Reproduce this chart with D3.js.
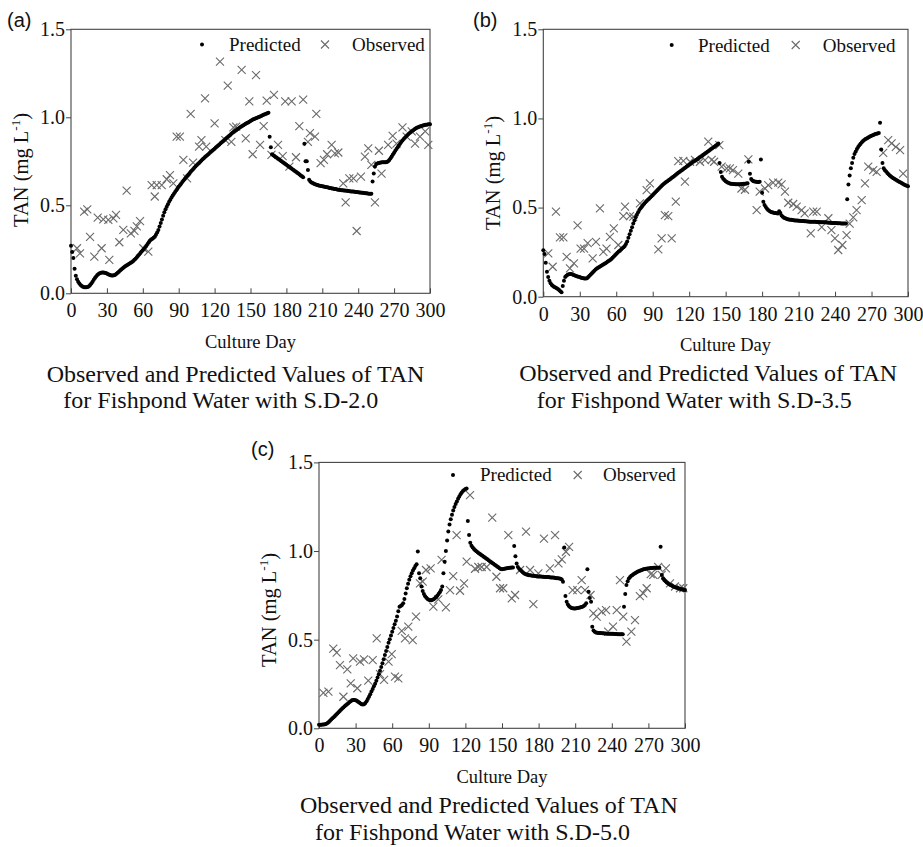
<!DOCTYPE html>
<html><head><meta charset="utf-8">
<script src="https://cdn.jsdelivr.net/npm/d3@7"></script>
<style>body{margin:0;background:#fff;} svg{display:block;}</style>
</head><body>
<svg id="chart" width="923" height="847"></svg>
<script>
// ---------------- DATA ----------------
const xTicks = [0,30,60,90,120,150,180,210,240,270,300];
const yTicks = [0.0,0.5,1.0,1.5];
const legendLabels = ["Predicted","Observed"];
const xAxisTitle = "Culture Day";
const titleLine1 = "Observed and Predicted Values of TAN";
const subtitles = ["for Fishpond Water with S.D-2.0","for Fishpond Water with S.D-3.5","for Fishpond Water with S.D-5.0"];
const panelLetters = ["(a)","(b)","(c)"];

// Predicted TAN, one value per culture day 0..300
const predA = [
0.27,0.235,0.2,0.14,0.1,0.08,0.065,0.055,0.047,0.041,
0.037,0.035,0.034,0.034,0.036,0.04,0.047,0.056,0.066,0.077,
0.087,0.096,0.104,0.11,0.114,0.117,0.118,0.118,0.117,0.115,
0.112,0.108,0.105,0.102,0.101,0.101,0.103,0.106,0.111,0.117,
0.123,0.129,0.135,0.141,0.147,0.152,0.157,0.161,0.165,0.169,
0.173,0.178,0.183,0.19,0.197,0.205,0.213,0.221,0.229,0.237,
0.245,0.253,0.262,0.27,0.28,0.29,0.3,0.305,0.31,0.315,
0.322,0.332,0.345,0.36,0.38,0.4,0.42,0.44,0.46,0.477,
0.492,0.506,0.52,0.532,0.544,0.555,0.566,0.576,0.586,0.596,
0.606,0.614,0.623,0.632,0.641,0.65,0.658,0.666,0.674,0.682,
0.69,0.698,0.705,0.713,0.72,0.727,0.734,0.741,0.748,0.755,
0.762,0.768,0.774,0.78,0.786,0.792,0.798,0.804,0.81,0.816,
0.822,0.828,0.834,0.84,0.846,0.852,0.858,0.864,0.87,0.876,
0.882,0.888,0.894,0.9,0.906,0.912,0.917,0.922,0.927,0.932,
0.937,0.942,0.947,0.951,0.955,0.959,0.963,0.967,0.971,0.975,
0.979,0.983,0.987,0.99,0.993,0.996,0.999,1.002,1.005,1.008,
1.011,1.014,1.017,1.02,1.023,1.026,0.89,0.83,0.79,0.785,
0.78,0.775,0.77,0.765,0.76,0.755,0.75,0.745,0.74,0.735,
0.73,0.725,0.72,0.715,0.71,0.705,0.7,0.695,0.69,0.685,
0.68,0.675,0.67,0.665,0.66,0.85,0.75,0.75,0.7,0.645,
0.635,0.63,0.626,0.623,0.62,0.617,0.615,0.613,0.611,0.61,
0.608,0.607,0.605,0.604,0.602,0.601,0.599,0.598,0.596,0.595,
0.593,0.592,0.591,0.589,0.588,0.587,0.586,0.585,0.584,0.584,
0.583,0.582,0.581,0.58,0.579,0.578,0.578,0.577,0.576,0.575,
0.574,0.573,0.573,0.572,0.571,0.57,0.569,0.568,0.567,0.566,
0.565,0.565,0.635,0.68,0.72,0.735,0.738,0.74,0.742,0.743,
0.744,0.744,0.745,0.745,0.746,0.75,0.758,0.767,0.777,0.788,
0.799,0.81,0.82,0.83,0.84,0.85,0.86,0.868,0.876,0.884,
0.891,0.898,0.905,0.911,0.917,0.922,0.927,0.932,0.936,0.94,
0.943,0.946,0.949,0.951,0.953,0.955,0.957,0.958,0.959,0.96,0.96];

const predB = [
0.26,0.24,0.19,0.14,0.11,0.09,0.075,0.066,0.06,0.055,
0.051,0.047,0.043,0.038,0.03,0.025,0.06,0.09,0.11,0.118,
0.123,0.126,0.127,0.127,0.125,0.122,0.119,0.116,0.114,0.112,
0.11,0.107,0.105,0.103,0.102,0.102,0.104,0.11,0.117,0.125,
0.132,0.139,0.146,0.152,0.158,0.163,0.167,0.171,0.175,0.179,
0.183,0.188,0.192,0.197,0.201,0.206,0.212,0.219,0.226,0.233,
0.24,0.247,0.253,0.258,0.265,0.272,0.278,0.284,0.295,0.31,
0.33,0.35,0.37,0.39,0.41,0.428,0.445,0.46,0.474,0.486,
0.496,0.505,0.514,0.522,0.53,0.537,0.544,0.55,0.557,0.564,
0.571,0.578,0.585,0.592,0.599,0.606,0.613,0.62,0.626,0.632,
0.638,0.643,0.648,0.653,0.658,0.663,0.668,0.673,0.678,0.684,
0.69,0.695,0.7,0.705,0.71,0.715,0.72,0.725,0.73,0.735,
0.74,0.745,0.75,0.755,0.76,0.764,0.768,0.773,0.778,0.783,
0.788,0.793,0.798,0.803,0.808,0.813,0.818,0.823,0.828,0.833,
0.838,0.843,0.848,0.853,0.86,0.75,0.7,0.673,0.662,0.654,
0.648,0.643,0.639,0.636,0.634,0.633,0.632,0.632,0.631,0.631,
0.631,0.631,0.631,0.632,0.632,0.633,0.634,0.635,0.636,0.757,
0.69,0.66,0.652,0.648,0.646,0.645,0.644,0.644,0.645,0.77,
0.583,0.533,0.515,0.503,0.493,0.486,0.481,0.477,0.474,0.472,
0.47,0.469,0.468,0.467,0.48,0.47,0.455,0.448,0.443,0.44,
0.437,0.435,0.433,0.432,0.431,0.43,0.429,0.428,0.428,0.427,
0.426,0.426,0.425,0.424,0.424,0.423,0.423,0.422,0.422,0.421,
0.421,0.42,0.42,0.42,0.42,0.419,0.419,0.419,0.418,0.418,
0.417,0.417,0.417,0.416,0.416,0.415,0.415,0.414,0.414,0.414,
0.413,0.413,0.412,0.412,0.412,0.411,0.411,0.41,0.41,0.41,
0.546,0.63,0.68,0.72,0.75,0.78,0.8,0.815,0.828,0.84,
0.85,0.858,0.866,0.873,0.879,0.884,0.888,0.892,0.896,0.9,
0.903,0.906,0.909,0.912,0.914,0.916,0.918,0.976,0.826,0.75,
0.72,0.71,0.702,0.694,0.687,0.68,0.674,0.668,0.664,0.66,
0.656,0.652,0.648,0.644,0.64,0.636,0.632,0.628,0.625,0.622,0.62];

const predC = [
0.02,0.02,0.02,0.021,0.022,0.023,0.025,0.03,0.036,0.043,
0.05,0.056,0.063,0.07,0.077,0.084,0.091,0.098,0.105,0.112,
0.118,0.124,0.13,0.136,0.142,0.148,0.153,0.158,0.16,0.16,
0.158,0.155,0.15,0.145,0.14,0.136,0.134,0.136,0.143,0.153,
0.165,0.178,0.192,0.207,0.222,0.237,0.252,0.268,0.286,0.305,
0.325,0.346,0.367,0.39,0.413,0.436,0.459,0.482,0.503,0.524,
0.545,0.566,0.587,0.607,0.63,0.66,0.686,0.69,0.695,0.705,
0.73,0.76,0.79,0.815,0.838,0.858,0.875,0.89,0.903,0.915,
0.925,0.998,0.875,0.846,0.8,0.775,0.757,0.745,0.736,0.729,
0.725,0.723,0.723,0.725,0.728,0.733,0.74,0.748,0.757,0.767,
0.78,0.8,0.874,0.94,1.0,1.06,1.11,1.15,1.18,1.205,
1.228,1.248,1.265,1.28,1.295,1.308,1.32,1.33,1.338,1.345,
1.35,1.353,1.17,1.09,1.047,1.03,1.02,1.012,1.005,0.999,
0.993,0.988,0.983,0.978,0.973,0.968,0.963,0.958,0.953,0.948,
0.943,0.938,0.933,0.928,0.923,0.918,0.913,0.908,0.903,0.899,
0.897,0.898,0.9,0.902,0.903,0.904,0.905,0.906,0.907,0.907,
1.028,0.97,0.93,0.91,0.9,0.893,0.887,0.88,0.875,0.871,
0.868,0.866,0.864,0.863,0.862,0.861,0.86,0.859,0.858,0.857,
0.857,0.856,0.856,0.855,0.855,0.854,0.854,0.853,0.853,0.852,
0.851,0.851,0.85,0.849,0.848,0.847,0.846,0.845,0.843,0.84,
0.827,1.02,0.746,0.714,0.698,0.688,0.683,0.679,0.677,0.676,
0.676,0.677,0.678,0.68,0.682,0.684,0.686,0.69,0.696,0.705,
0.897,0.77,0.735,0.714,0.573,0.552,0.545,0.541,0.539,0.538,
0.537,0.537,0.536,0.536,0.535,0.535,0.534,0.534,0.534,0.533,
0.533,0.533,0.532,0.532,0.532,0.531,0.531,0.531,0.53,0.53,
0.686,0.757,0.808,0.83,0.845,0.853,0.86,0.865,0.87,0.875,
0.879,0.883,0.886,0.889,0.892,0.895,0.897,0.899,0.9,0.901,
0.902,0.903,0.904,0.904,0.905,0.905,0.906,0.906,0.906,0.906,
1.024,0.865,0.845,0.836,0.829,0.823,0.818,0.813,0.809,0.805,
0.801,0.798,0.795,0.793,0.791,0.789,0.787,0.785,0.783,0.781,0.78];

// Observed TAN: [culture day, value]
const obsA = [[5,0.256],[7.5,0.227],[11,0.464],[13.6,0.477],[15.9,0.32],[19.5,0.208],[22.3,0.43],[25.6,0.256],[27,0.42],[31.2,0.417],
[32,0.19],[35.4,0.426],[37.6,0.445],[40.4,0.29],[43.7,0.36],[46.5,0.583],[50,0.34],[53,0.355],[55,0.38],[57.7,0.41],
[60.4,0.256],[64.6,0.237],[67.4,0.615],[70,0.55],[71.6,0.615],[75.8,0.615],[80,0.648],[82.7,0.672],[85.5,0.625],[88.3,0.89],
[91,0.89],[93.9,0.758],[97,0.653],[100,1.02],[102,0.742],[107,0.833],[109,0.87],[112,1.108],[113,0.833],[120,0.966],
[124.5,1.316],[129,0.87],[131,1.18],[134,0.86],[135.7,0.943],[138,0.947],[142.6,1.27],[146,0.88],[149,1.09],[151.8,0.79],
[154.6,1.24],[158,0.843],[161,0.95],[163.5,1.095],[167.5,0.786],[169.6,1.127],[173,0.843],[176.9,0.78],[179,1.09],[182.5,0.72],
[184.4,1.09],[188,0.773],[190.8,0.95],[194,1.10],[198,0.86],[199.7,0.91],[203.9,0.89],[205,1.02],[208.6,0.74],[211.4,0.758],
[214,0.79],[217.8,0.843],[220.5,0.795],[223.4,0.80],[227.5,0.625],[229.5,0.517],[232.6,0.653],[236,0.653],[238.7,0.354],[242.3,0.663],
[245.6,0.777],[248.4,0.824],[251,0.73],[254,0.517],[257.3,0.81],[259.5,0.68],[265,0.843],[268.8,0.894],[272,0.85],[277,0.943],
[280.5,0.89],[284.7,0.92],[287.5,0.85],[291.6,0.89],[296,0.92],[298.6,0.843]];

const obsB = [[4.1,0.243],[7.7,0.168],[10.4,0.477],[13.7,0.333],[16.5,0.333],[19.2,0.224],[21.9,0.159],[25.2,0.187],[28.2,0.40],[30.7,0.27],
[33.5,0.27],[36.5,0.30],[40.6,0.215],[43.3,0.308],[46.6,0.495],[49.4,0.252],[52,0.27],[54.8,0.336],[58,0.383],[61.7,0.29],
[65.8,0.452],[67.2,0.505],[71.3,0.452],[74,0.449],[79.5,0.523],[85,0.598],[87.7,0.636],[94.6,0.265],[97.3,0.327],[100,0.458],
[102.8,0.452],[105.6,0.327],[109,0.533],[111,0.76],[115.2,0.762],[116.5,0.645],[120.7,0.757],[124.8,0.768],[128.9,0.757],[133,0.766],
[135.7,0.87],[138.5,0.768],[140.5,0.757],[144.8,0.85],[146.7,0.73],[150.8,0.72],[153.5,0.72],[156,0.71],[160.4,0.69],[163,0.607],
[165.9,0.60],[168.7,0.77],[175.5,0.486],[178,0.589],[182.4,0.607],[185,0.626],[189,0.64],[193.3,0.64],[196,0.63],[198.8,0.589],
[201.5,0.527],[205.6,0.52],[208.4,0.505],[212.5,0.486],[215,0.467],[220,0.355],[222,0.477],[224.9,0.477],[229,0.39],[234.5,0.44],
[237,0.374],[239.9,0.327],[242.6,0.262],[246,0.29],[249.5,0.346],[252,0.41],[255,0.445],[257.7,0.486],[261.9,0.542],[264.6,0.636],
[267.3,0.73],[271.4,0.71],[274.2,0.70],[279.6,0.807],[283.7,0.878],[286.5,0.86],[290,0.84],[293.5,0.822],[296,0.69]];

const obsC = [[3.6,0.20],[7.7,0.207],[11.7,0.45],[14.5,0.427],[17.2,0.357],[20,0.178],[23.2,0.333],[26,0.254],[28,0.395],[31.4,0.226],
[33.6,0.376],[36.9,0.389],[40.4,0.269],[44,0.385],[47.3,0.507],[50,0.306],[53.3,0.273],[57,0.376],[59.6,0.419],[62.3,0.291],
[65,0.282],[67.8,0.549],[70.5,0.507],[73.2,0.573],[76.8,0.498],[79.5,0.63],[82.8,0.818],[85,0.827],[87.7,0.893],[91.5,0.902],
[93.7,0.686],[97.8,0.727],[100.5,0.95],[104,0.682],[107.4,0.78],[110,0.859],[112.8,1.09],[115.6,0.776],[118.9,0.818],[121,0.94],
[123.8,1.316],[127.9,0.90],[130.6,0.91],[133.3,0.91],[137.4,0.91],[142,1.188],[145.4,0.855],[148.4,0.79],[151,0.79],[155.2,1.09],
[158,0.733],[160.7,0.752],[164.8,0.893],[169.7,1.11],[173,0.893],[175.7,0.70],[179.8,0.874],[184.4,1.07],[189.3,0.902],[193.5,1.09],
[196.3,0.93],[199,0.953],[202.4,0.996],[205,1.024],[207.9,0.78],[211.7,0.78],[215.3,0.836],[218,0.78],[222.6,0.752],[224.9,0.648],
[227.6,0.63],[231.7,0.658],[235.3,0.667],[237,0.545],[241,0.573],[244,0.667],[246.7,0.836],[249.4,0.63],[252,0.489],[256,0.545],
[259,0.61],[263,0.746],[265.8,0.761],[268.6,0.79],[271.9,0.87],[274,0.865],[278,0.91],[280.9,0.865],[284.4,0.902],[287.7,0.818],
[291.8,0.80],[295.9,0.79],[298.6,0.79]];

const predSeries = [predA, predB, predC];
const obsSeries = [obsA, obsB, obsC];

// ---------------- LAYOUT ----------------
const frames = [
  {x0:71, x1:430, yTop:29.3, yBot:293.3, letter:[7,27], yLab:[28,170],
   leg:{dot:202, pred:229, cross:325, obs:352, my:44.5, base:51},
   day:[250.5,348], t1:[46.7,381.5], t2:[63.3,408]},
  {x0:543.3, x1:908, yTop:29.3, yBot:296.7, letter:[473,27], yLab:[500,173],
   leg:{dot:671.7, pred:698, cross:795.7, obs:822.7, my:45, base:51.5},
   day:[725.5,351], t1:[519.3,380.5], t2:[536.7,408]},
  {x0:319, x1:685, yTop:462.4, yBot:728.3, letter:[251,456], yLab:[276,610],
   leg:{dot:453, pred:480, cross:577.7, obs:603, my:475, base:481},
   day:[502,783], t1:[300,813], t2:[315,840]}
];
const SERIF = "'Liberation Serif','Times New Roman',Times,serif";
const SANS = "'Liberation Sans',Arial,Helvetica,sans-serif";
const crossPath = "M-4,-4L4,4M-4,4L4,-4";

const svg = d3.select("#chart");

frames.forEach((f, i) => {
  const x = d3.scaleLinear().domain([0,300]).range([f.x0, f.x1]);
  const y = d3.scaleLinear().domain([0,1.5]).range([f.yBot, f.yTop]);
  const g = svg.append("g");

  const ax = g.append("g").attr("transform", `translate(0,${f.yBot})`)
    .call(d3.axisBottom(x).tickValues(xTicks).tickSize(-5).tickPadding(10).tickFormat(d3.format("d")));
  const ay = g.append("g").attr("transform", `translate(${f.x0},0)`)
    .call(d3.axisLeft(y).tickValues(yTicks).tickSize(5).tickPadding(1).tickFormat(d3.format(".1f")));
  [ax, ay].forEach(a => {
    a.attr("font-family", SERIF).attr("font-size", 20);
    a.select(".domain").remove();
    a.selectAll("line").attr("stroke", "#444");
    a.selectAll("text").attr("fill", "#111");
  });

  g.append("rect").attr("x", f.x0).attr("y", f.yTop)
    .attr("width", f.x1 - f.x0).attr("height", f.yBot - f.yTop)
    .attr("fill", "none").attr("stroke", "#444").attr("stroke-width", 1.1);

  // observed crosses
  g.append("g").selectAll("path").data(obsSeries[i]).join("path")
    .attr("d", crossPath)
    .attr("transform", d => `translate(${x(d[0])},${y(d[1])})`)
    .attr("stroke", "#6a6a6a").attr("stroke-width", 1.1).attr("fill", "none");

  // predicted dots
  g.append("g").selectAll("circle").data(predSeries[i].map((v, d) => [d, v])).join("circle")
    .attr("cx", d => x(d[0])).attr("cy", d => y(d[1])).attr("r", 2).attr("fill", "#000");

  // legend
  const L = f.leg;
  g.append("circle").attr("cx", L.dot).attr("cy", L.my).attr("r", 2).attr("fill", "#000");
  g.append("text").attr("x", L.pred).attr("y", L.base).text(legendLabels[0])
    .attr("font-family", SERIF).attr("font-size", 19).attr("fill", "#111");
  g.append("path").attr("d", crossPath).attr("transform", `translate(${L.cross},${L.my})`)
    .attr("stroke", "#6a6a6a").attr("stroke-width", 1.1);
  g.append("text").attr("x", L.obs).attr("y", L.base).text(legendLabels[1])
    .attr("font-family", SERIF).attr("font-size", 19).attr("fill", "#111");

  // axis titles
  g.append("text").attr("x", f.day[0]).attr("y", f.day[1]).attr("text-anchor", "middle")
    .attr("font-family", SERIF).attr("font-size", 18.5).attr("fill", "#111").text(xAxisTitle);
  const yl = g.append("text").attr("transform", `translate(${f.yLab[0]},${f.yLab[1]}) rotate(-90)`)
    .attr("text-anchor", "middle").attr("font-family", SERIF).attr("font-size", 20.5).attr("fill", "#111");
  yl.append("tspan").text("TAN (mg L");
  yl.append("tspan").attr("font-size", 13).attr("dy", -8).text("-1");
  yl.append("tspan").attr("dy", 8).text(")");

  // panel letter
  g.append("text").attr("x", f.letter[0]).attr("y", f.letter[1])
    .attr("font-family", SANS).attr("font-size", 20).attr("fill", "#111").text(panelLetters[i]);

  // captions
  g.append("text").attr("x", f.t1[0]).attr("y", f.t1[1]).attr("font-family", SERIF)
    .attr("font-size", 24).attr("fill", "#111").text(titleLine1);
  g.append("text").attr("x", f.t2[0]).attr("y", f.t2[1]).attr("font-family", SERIF)
    .attr("font-size", 24).attr("fill", "#111").text(subtitles[i]);
});
</script>
</body></html>
